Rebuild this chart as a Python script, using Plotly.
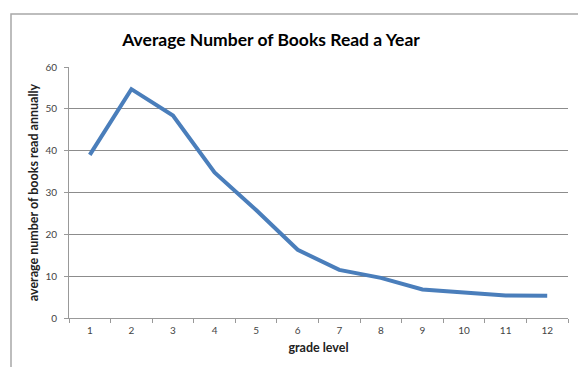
import plotly.graph_objects as go

grades = ["1", "2", "3", "4", "5", "6", "7", "8", "9", "10", "11", "12"]
books = [39.0, 54.7, 48.4, 34.8, 25.8, 16.3, 11.5, 9.6, 6.8, 6.0, 5.4, 5.3]

fig = go.Figure()
fig.add_trace(go.Scatter(
    x=grades, y=books, mode="lines",
    line=dict(color="#4A7EBB", width=4),
    hoverinfo="skip",
))

font_family = "Lato, 'Open Sans', sans-serif"

fig.update_layout(
    width=578, height=367,
    margin=dict(l=69, r=10, t=67, b=49),
    paper_bgcolor="white", plot_bgcolor="white",
    showlegend=False,
    font=dict(family=font_family, color="#333333"),
    title=dict(
        text="<b>Average Number of Books Read a Year</b>",
        x=271 / 578, xanchor="center",
        y=1 - 40 / 367, yanchor="middle",
        font=dict(size=17.5, color="#000000", family=font_family),
    ),
    xaxis=dict(
        type="category",
        range=[-0.5, 11.5],
        showgrid=False,
        showline=True, linecolor="#999999", linewidth=1,
        ticks="outside", tickson="boundaries", ticklen=4, tickcolor="#999999",
        tickfont=dict(size=10, color="#444444"),
        ticklabelstandoff=3,
        title=dict(text="<b>grade level</b>", font=dict(size=12.5, color="#222222"), standoff=8),
        zeroline=False,
    ),
    yaxis=dict(
        range=[0, 60],
        tickvals=[0, 10, 20, 30, 40, 50, 60],
        showgrid=True, gridcolor="#8C8C8C", gridwidth=1,
        showline=True, linecolor="#999999", linewidth=1,
        ticks="outside", ticklen=4, tickcolor="#999999",
        tickfont=dict(size=10, color="#444444"),
        ticklabelstandoff=5,
        title=dict(text="<b>average number of books read annually</b>",
                   font=dict(size=12.5, color="#222222"), standoff=4),
        zeroline=False,
    ),
    shapes=[dict(
        type="rect", xref="paper", yref="paper",
        x0=(11 - 69) / 499, x1=1.2,
        y0=-0.4, y1=1 + (67 - 14) / 251,
        line=dict(color="#A8A8A8", width=1.5),
        fillcolor="rgba(0,0,0,0)", layer="below",
    )],
)

fig.write_html("out.html")
